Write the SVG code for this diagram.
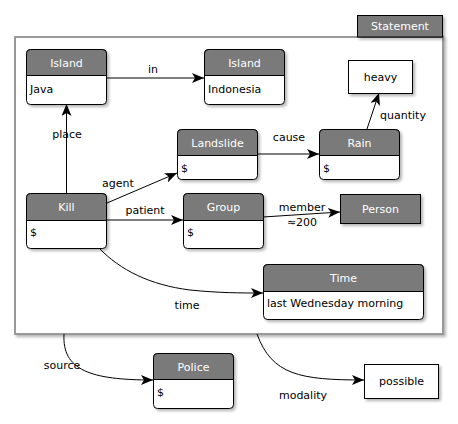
<svg xmlns="http://www.w3.org/2000/svg" width="458" height="424" viewBox="0 0 458 424">
<defs>
<filter id="sh" x="-20%" y="-20%" width="150%" height="160%">
<feGaussianBlur in="SourceAlpha" stdDeviation="1.5"/>
<feOffset dx="1.5" dy="2" result="b"/>
<feComponentTransfer><feFuncA type="linear" slope="0.3"/></feComponentTransfer>
<feMerge><feMergeNode/><feMergeNode in="SourceGraphic"/></feMerge>
</filter>
<marker id="ah" viewBox="0 0 12 10" refX="12" refY="5" markerWidth="12" markerHeight="10" markerUnits="userSpaceOnUse" orient="auto">
<path d="M0,0 L12,5 L0,10 L3,5 Z" fill="#000"/>
</marker>
<style>
text{font-family:"DejaVu Sans","Liberation Sans",sans-serif;font-size:11px;fill:#000}
.hd{fill:#ffffff;text-anchor:middle}
.c{text-anchor:middle}
.box{fill:#fff;stroke:#000;stroke-width:1}
.hdr{fill:#7a7a7a;stroke:#000;stroke-width:1}
.ln{fill:none;stroke:#000;stroke-width:1;marker-end:url(#ah)}
</style>
</defs>
<rect width="458" height="424" fill="#fff"/>
<g id="statement">
<rect x="15" y="37" width="428" height="297" fill="#fff" stroke="#999" stroke-width="2" filter="url(#sh)"/>
<rect x="357.5" y="15.5" width="85" height="21.5" class="hdr" filter="url(#sh)"/>
<text x="400" y="30" class="hd">Statement</text>
</g>
<g id="connectors">
<line x1="107" y1="78" x2="204" y2="78" class="ln"/>
<text x="153" y="73" class="c">in</text>
<line x1="66.5" y1="193" x2="66.5" y2="104" class="ln"/>
<text x="67" y="138" class="c">place</text>
<line x1="107" y1="203" x2="177" y2="173" class="ln"/>
<text x="118" y="187" class="c">agent</text>
<line x1="257" y1="154" x2="319" y2="154" class="ln"/>
<text x="289" y="141" class="c">cause</text>
<line x1="107" y1="220" x2="183" y2="220" class="ln"/>
<text x="145" y="214" class="c">patient</text>
<line x1="263" y1="217" x2="340" y2="212" class="ln"/>
<text x="302" y="211" class="c">member</text>
<text x="302" y="226" class="c">≈200</text>
<line x1="367" y1="129" x2="379" y2="93" class="ln"/>
<text x="403" y="119" class="c">quantity</text>
<path d="M99,248 C120,270 150,285 190,290 C220,293 240,293 263,293" class="ln"/>
<text x="187" y="309" class="c">time</text>
<path d="M64,334 C62,370 90,380 153,380" class="ln"/>
<text x="62" y="369" class="c">source</text>
<path d="M257,334 C272,375 300,380 364,380" class="ln"/>
<text x="303" y="399" class="c">modality</text>
</g>
<g id="island-java">
<rect x="26.5" y="49.5" width="80" height="55" rx="4" class="box" filter="url(#sh)"/>
<path d="M26.5,75.5 V53.5 A4,4 0 0 1 30.5,49.5 H102.5 A4,4 0 0 1 106.5,53.5 V75.5 Z" class="hdr"/>
<text x="66.5" y="67" class="hd">Island</text>
<text x="30" y="93">Java</text>
</g>
<g id="island-indonesia">
<rect x="204.5" y="49.5" width="80" height="55" rx="4" class="box" filter="url(#sh)"/>
<path d="M204.5,75.5 V53.5 A4,4 0 0 1 208.5,49.5 H280.5 A4,4 0 0 1 284.5,53.5 V75.5 Z" class="hdr"/>
<text x="244.5" y="67" class="hd">Island</text>
<text x="208" y="93">Indonesia</text>
</g>
<g id="heavy">
<rect x="348.5" y="60.5" width="64" height="33" class="box" filter="url(#sh)"/>
<text x="380.5" y="81" class="c">heavy</text>
</g>
<g id="landslide">
<rect x="177.5" y="129.5" width="80" height="50" rx="4" class="box" filter="url(#sh)"/>
<path d="M177.5,155.5 V133.5 A4,4 0 0 1 181.5,129.5 H253.5 A4,4 0 0 1 257.5,133.5 V155.5 Z" class="hdr"/>
<text x="217.5" y="147" class="hd">Landslide</text>
<text x="181" y="172">$</text>
</g>
<g id="rain">
<rect x="319.5" y="129.5" width="80" height="50" rx="4" class="box" filter="url(#sh)"/>
<path d="M319.5,155.5 V133.5 A4,4 0 0 1 323.5,129.5 H395.5 A4,4 0 0 1 399.5,133.5 V155.5 Z" class="hdr"/>
<text x="359.5" y="147" class="hd">Rain</text>
<text x="323" y="172">$</text>
</g>
<g id="kill">
<rect x="26.5" y="193.5" width="80" height="55" rx="4" class="box" filter="url(#sh)"/>
<path d="M26.5,220.5 V197.5 A4,4 0 0 1 30.5,193.5 H102.5 A4,4 0 0 1 106.5,197.5 V220.5 Z" class="hdr"/>
<text x="66.5" y="211" class="hd">Kill</text>
<text x="30" y="236">$</text>
</g>
<g id="group">
<rect x="183.5" y="193.5" width="80" height="55" rx="4" class="box" filter="url(#sh)"/>
<path d="M183.5,220.5 V197.5 A4,4 0 0 1 187.5,193.5 H259.5 A4,4 0 0 1 263.5,197.5 V220.5 Z" class="hdr"/>
<text x="223.5" y="211" class="hd">Group</text>
<text x="187" y="236">$</text>
</g>
<g id="person">
<rect x="340.5" y="194.5" width="80" height="29" class="hdr" filter="url(#sh)"/>
<text x="380.5" y="213" class="hd">Person</text>
</g>
<g id="time">
<rect x="263.5" y="264.5" width="160" height="55" rx="4" class="box" filter="url(#sh)"/>
<path d="M263.5,291.5 V268.5 A4,4 0 0 1 267.5,264.5 H419.5 A4,4 0 0 1 423.5,268.5 V291.5 Z" class="hdr"/>
<text x="343.5" y="282" class="hd">Time</text>
<text x="267" y="307">last Wednesday morning</text>
</g>
<g id="police">
<rect x="153.5" y="353.5" width="80" height="55" rx="4" class="box" filter="url(#sh)"/>
<path d="M153.5,379.5 V357.5 A4,4 0 0 1 157.5,353.5 H229.5 A4,4 0 0 1 233.5,357.5 V379.5 Z" class="hdr"/>
<text x="193.5" y="371" class="hd">Police</text>
<text x="157" y="396">$</text>
</g>
<g id="possible">
<rect x="364.5" y="364.5" width="74" height="34" class="box" filter="url(#sh)"/>
<text x="401.5" y="385" class="c">possible</text>
</g>
</svg>
